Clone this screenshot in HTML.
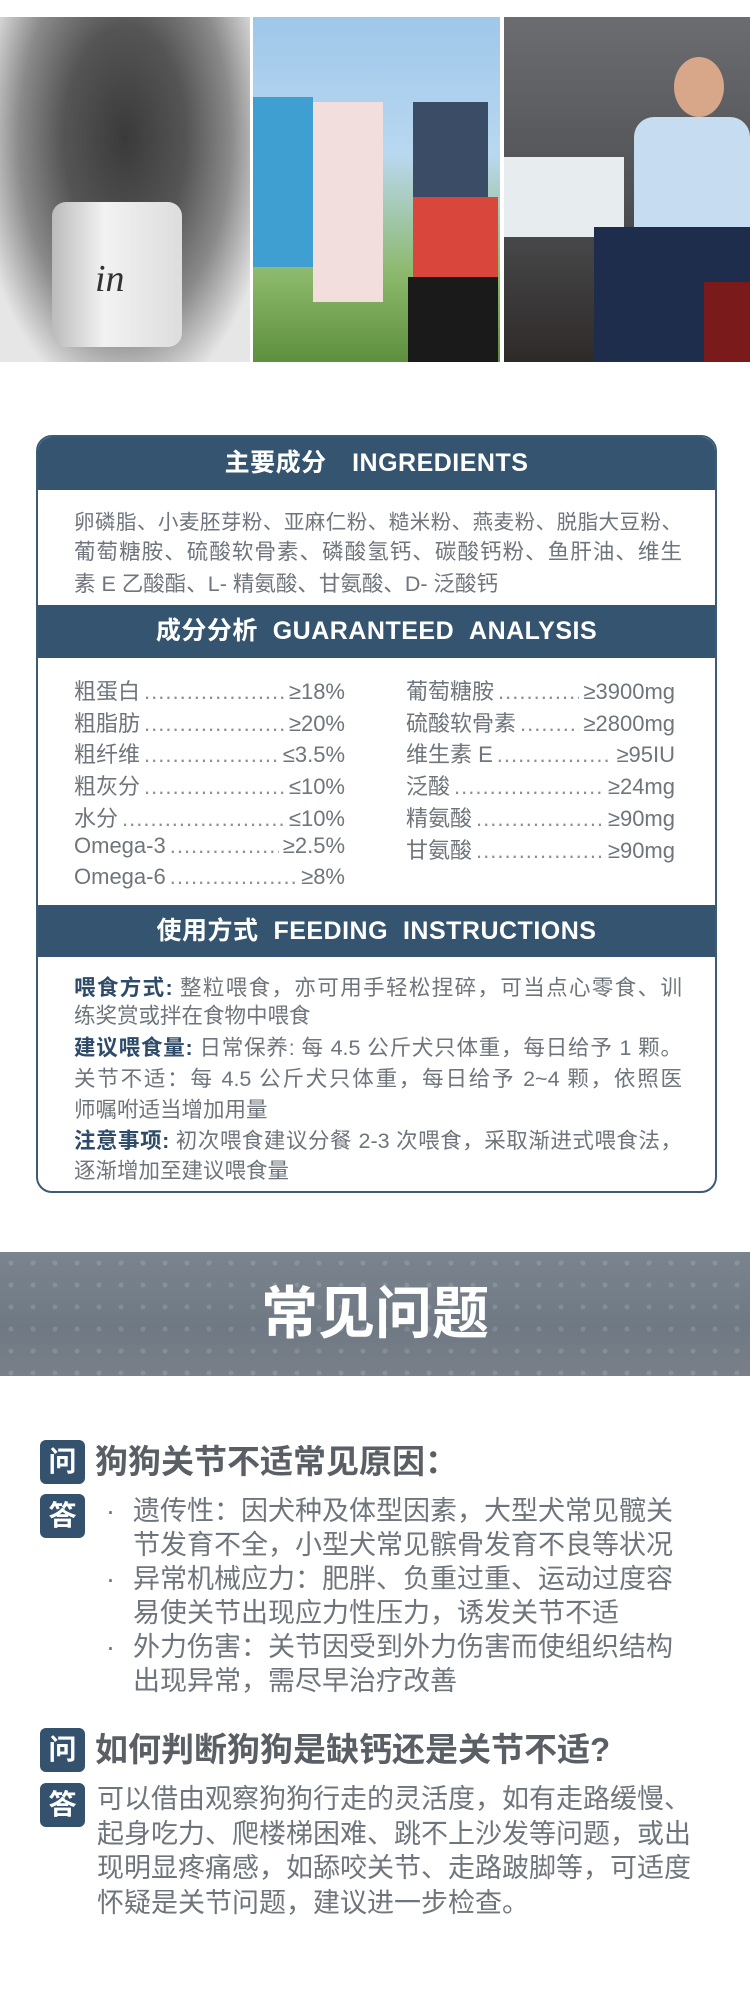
<!DOCTYPE html>
<html><head><meta charset="utf-8">
<style>
*{margin:0;padding:0;box-sizing:border-box}
body{width:750px;height:2009px;background:#fff;position:relative;overflow:hidden;font-family:"Liberation Sans","Noto Sans CJK SC",sans-serif;color:#6f757c}
.abs{position:absolute}
.photo{position:absolute;top:17px;height:345px;overflow:hidden}
.card{position:absolute;left:36px;top:435px;width:681px;height:758px;border:2px solid #3d5a76;border-radius:16px;overflow:hidden;background:#fff}
.hdr{position:absolute;left:0;width:100%;background:#35546f;color:#fff;font-weight:bold;font-size:25px;text-align:center;letter-spacing:0.5px}
.line{position:absolute;left:36px;width:608px;font-size:21.5px;white-space:nowrap}
.j{text-align:justify;text-align-last:justify}
.row{position:absolute;display:flex;align-items:baseline;font-size:22px;white-space:nowrap}
.row .d{flex:1;overflow:hidden;color:#8a8f95;letter-spacing:1px;margin:0 4px}
.lab{color:#2e4c69;font-weight:bold}
.badge{position:absolute;left:40px;width:45px;height:44px;background:#34516e;border-radius:6px;color:#fff;font-weight:bold;font-size:28px;text-align:center;line-height:44px}
.q{position:absolute;left:95px;font-size:33px;font-weight:bold;color:#5a5f66;white-space:nowrap}
.a{position:absolute;font-size:27px;white-space:nowrap;color:#6f757c;line-height:34px}
</style></head><body>

<div class="photo" style="left:0;width:250px;background:radial-gradient(ellipse at 50% 35%,#3a3a3a 0,#555 35%,#8a8a8a 60%,#e6e6e6 85%)">
  <div class="abs" style="left:52px;top:185px;width:130px;height:145px;background:linear-gradient(90deg,#bbb,#f2f2f2 40%,#ddd);border-radius:14px"></div>
  <div class="abs" style="left:95px;top:240px;font:italic 38px 'Liberation Serif',serif;color:#333">in</div>
</div>
<div class="photo" style="left:253px;width:247px;background:linear-gradient(180deg,#9fc7ea 0,#b9d8f0 40%,#8bb86a 75%,#5d8f3d 100%)">
  <div class="abs" style="left:0;top:80px;width:60px;height:170px;background:#3f9fd0"></div>
  <div class="abs" style="left:60px;top:85px;width:70px;height:200px;background:#f3dede"></div>
  <div class="abs" style="left:160px;top:85px;width:75px;height:130px;background:#3a4c66"></div>
  <div class="abs" style="left:160px;top:180px;width:85px;height:110px;background:#d9473c"></div>
  <div class="abs" style="left:155px;top:260px;width:90px;height:85px;background:#1a1a1a"></div>
</div>
<div class="photo" style="left:504px;width:246px;background:linear-gradient(180deg,#6b6d70,#4d4f52 55%,#2e2a28)">
  <div class="abs" style="left:0;top:140px;width:120px;height:80px;background:#e7ecee"></div>
  <div class="abs" style="left:130px;top:100px;width:116px;height:120px;background:#c6dcf0;border-radius:20px 20px 0 0"></div>
  <div class="abs" style="left:170px;top:40px;width:50px;height:60px;background:#d8a689;border-radius:50%"></div>
  <div class="abs" style="left:90px;top:210px;width:156px;height:135px;background:#1f2d4d"></div>
  <div class="abs" style="left:200px;top:265px;width:46px;height:80px;background:#7a1a1a"></div>
</div>

<div class="card">
  <div class="hdr" style="top:0;height:53px;line-height:53px">主要成分　INGREDIENTS</div>
  <div class="line j" style="top:68px;font-size:20.5px">卵磷脂、小麦胚芽粉、亚麻仁粉、糙米粉、燕麦粉、脱脂大豆粉、</div>
  <div class="line j" style="top:98px">葡萄糖胺、硫酸软骨素、磷酸氢钙、碳酸钙粉、鱼肝油、维生</div>
  <div class="line" style="top:130px">素 E 乙酸酯、L- 精氨酸、甘氨酸、D- 泛酸钙</div>

  <div class="hdr" style="top:168px;height:53px;line-height:53px">成分分析&nbsp;&nbsp;GUARANTEED&nbsp;&nbsp;ANALYSIS</div>
  <div id="rows"></div>

  <div class="hdr" style="top:468px;height:52px;line-height:52px">使用方式&nbsp;&nbsp;FEEDING&nbsp;&nbsp;INSTRUCTIONS</div>
  <div class="line j" style="top:534px"><span class="lab">喂食方式:</span> 整粒喂食，亦可用手轻松捏碎，可当点心零食、训</div>
  <div class="line" style="top:562px">练奖赏或拌在食物中喂食</div>
  <div class="line j" style="top:594px"><span class="lab">建议喂食量:</span> 日常保养: 每 4.5 公斤犬只体重，每日给予 1 颗。</div>
  <div class="line j" style="top:625px">关节不适：每 4.5 公斤犬只体重，每日给予 2~4 颗，依照医</div>
  <div class="line" style="top:656px">师嘱咐适当增加用量</div>
  <div class="line j" style="top:687px"><span class="lab">注意事项:</span> 初次喂食建议分餐 2-3 次喂食，采取渐进式喂食法，</div>
  <div class="line" style="top:717px">逐渐增加至建议喂食量</div>
</div>

<div class="abs" style="left:0;top:1252px;width:750px;height:124px;background:radial-gradient(circle,rgba(255,255,255,0.13) 2px,transparent 3px) 0 0/22px 22px,linear-gradient(180deg,#7b848e,#6f7984 60%,#7a7f88)">
  <div class="abs" style="left:0;top:0;width:750px;height:124px;text-align:center;line-height:124px;color:#fff;font-size:57px;font-weight:bold">常见问题</div>
</div>

<div class="badge" style="top:1440px">问</div>
<div class="q" style="top:1440px;line-height:44px">狗狗关节不适常见原因：</div>
<div class="badge" style="top:1494px">答</div>
<div class="a" style="left:106px;top:1494px">·<br><br>·<br><br>·</div>
<div class="a" style="left:133px;top:1494px">遗传性：因犬种及体型因素，大型犬常见髋关<br>节发育不全，小型犬常见髌骨发育不良等状况<br>异常机械应力：肥胖、负重过重、运动过度容<br>易使关节出现应力性压力，诱发关节不适<br>外力伤害：关节因受到外力伤害而使组织结构<br>出现异常，需尽早治疗改善</div>

<div class="badge" style="top:1728px">问</div>
<div class="q" style="top:1728px;line-height:44px">如何判断狗狗是缺钙还是关节不适?</div>
<div class="badge" style="top:1783px">答</div>
<div class="a" style="left:97px;top:1782px;line-height:34.5px">可以借由观察狗狗行走的灵活度，如有走路缓慢、<br>起身吃力、爬楼梯困难、跳不上沙发等问题，或出<br>现明显疼痛感，如舔咬关节、走路跛脚等，可适度<br>怀疑是关节问题，建议进一步检查。</div>

<script>
const leftLabels=["粗蛋白","粗脂肪","粗纤维","粗灰分","水分","Omega-3","Omega-6"];
const leftValues=["≥18%","≥20%","≤3.5%","≤10%","≤10%","≥2.5%","≥8%"];
const rightLabels=["葡萄糖胺","硫酸软骨素","维生素 E","泛酸","精氨酸","甘氨酸"];
const rightValues=["≥3900mg","≥2800mg","≥95IU","≥24mg","≥90mg","≥90mg"];
const host=document.getElementById('rows');
function addRow(lab,val,x,w,i,side){
  const r=document.createElement('div');
  r.className='row';
  
  
  r.style.left=x+'px';r.style.width=w+'px';r.style.top=(237+i*31.7)+'px';
  r.innerHTML='<span>'+lab+'</span><span class="d">'+'.'.repeat(80)+'</span><span>'+val+'</span>';
  host.appendChild(r);
}
leftLabels.forEach((l,i)=>addRow(l,leftValues[i],36,271,i,'left'));
rightLabels.forEach((l,i)=>addRow(l,rightValues[i],368,269,i,'right'));
</script>
</body></html>
